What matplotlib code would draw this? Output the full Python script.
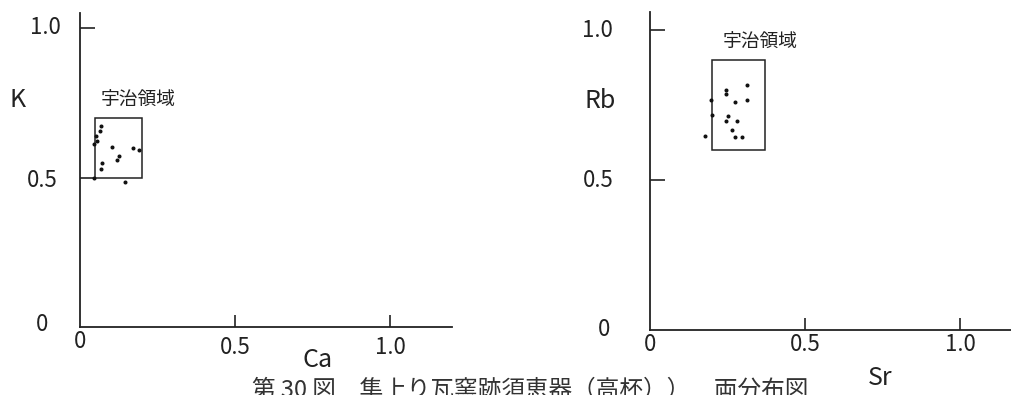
import matplotlib
matplotlib.use('Agg')
import matplotlib.pyplot as plt
from matplotlib.patches import Rectangle

plt.rcParams['font.family'] = ['Noto Sans CJK JP', 'DejaVu Sans']

# K - Ca 分布
ca = [0.069, 0.065, 0.052, 0.054, 0.044, 0.102, 0.171, 0.189, 0.127, 0.118, 0.072, 0.069, 0.046, 0.146]
k = [0.673, 0.657, 0.639, 0.623, 0.613, 0.601, 0.598, 0.591, 0.571, 0.559, 0.549, 0.529, 0.497, 0.484]
# Rb - Sr 分布
sr = [0.314, 0.245, 0.244, 0.196, 0.275, 0.314, 0.200, 0.253, 0.246, 0.282, 0.266, 0.274, 0.298, 0.177]
rb = [0.818, 0.801, 0.788, 0.768, 0.759, 0.766, 0.718, 0.714, 0.698, 0.697, 0.667, 0.642, 0.644, 0.648]

# 宇治領域 (x0, y0, x1, y1)
uji_k_ca = (0.05, 0.5, 0.2, 0.7)
uji_rb_sr = (0.2, 0.6, 0.37, 0.9)

region_label = '宇治領域'
caption = '第 30 図　隼上り瓦窯跡須恵器（高杯））　両分布図'

W, H = 1012, 395
fig = plt.figure(figsize=(W / 100, H / 100), dpi=100)
lc = '#222222'

def make_ax(x0, y0, xmax, ymax, sx, sy):
    # x0,y0: 原点の画素位置(上から), sx,sy: 1.0あたりの画素数
    w = xmax * sx
    h = ymax * sy
    ax = fig.add_axes([x0 / W, (H - y0) / H, w / W, h / H])
    ax.set_xlim(0, xmax)
    ax.set_ylim(0, ymax)
    for s in ['top', 'right']:
        ax.spines[s].set_visible(False)
    for s in ['left', 'bottom']:
        ax.spines[s].set_linewidth(1.3)
        ax.spines[s].set_color(lc)
    ax.set_xticks([0.5, 1.0])
    ax.set_yticks([0.5, 1.0])
    ax.tick_params(axis='x', direction='in', length=9, width=1.2, color=lc, labelbottom=False)
    ax.tick_params(axis='y', direction='in', length=11, width=1.2, color=lc, labelleft=False)
    ax.patch.set_alpha(0)
    return ax

def txt(ax, x, y, s, size=16):
    ax.text(x, y, s, ha='center', va='center', fontsize=size, color=lc, clip_on=False)

# 左図 K-Ca
ax1 = make_ax(80, 327, 1.2, 1.05, 310, 299)
ax1.plot(ca, k, 'o', ms=1.9, color='#111111')
b = uji_k_ca
ax1.add_patch(Rectangle((b[0], b[1]), b[2] - b[0], b[3] - b[1], fill=False, lw=1.1, ec=lc))
ax1.text(0.065, 0.759, region_label, ha='left', va='center', fontsize=13.5, color=lc)
txt(ax1, -0.113, 1.0, '1.0')
txt(ax1, -0.123, 0.49, '0.5')
txt(ax1, -0.123, 0.007, '0')
txt(ax1, 0.0, -0.05, '0')
txt(ax1, 0.5, -0.067, '0.5')
txt(ax1, 1.0, -0.067, '1.0')
txt(ax1, -0.2, 0.759, 'K', 18)
txt(ax1, 0.765, -0.11, 'Ca', 18)

# 右図 Rb-Sr
ax2 = make_ax(650, 330, 1.165, 1.06, 310, 300)
ax2.plot(sr, rb, 'o', ms=1.9, color='#111111')
b = uji_rb_sr
ax2.add_patch(Rectangle((b[0], b[1]), b[2] - b[0], b[3] - b[1], fill=False, lw=1.1, ec=lc))
ax2.text(0.235, 0.957, region_label, ha='left', va='center', fontsize=13.5, color=lc)
txt(ax2, -0.168, 1.0, '1.0')
txt(ax2, -0.161, 0.763, 'Rb', 18)
txt(ax2, -0.168, 0.497, '0.5')
txt(ax2, -0.148, 0.003, '0')
txt(ax2, 0.0, -0.047, '0')
txt(ax2, 0.5, -0.047, '0.5')
txt(ax2, 1.0, -0.047, '1.0')
txt(ax2, 0.742, -0.16, 'Sr', 18)

fig.text(530 / W, (H - 379) / H, caption, ha='center', va='top', fontsize=17, color='#333333')

fig.savefig('out.png', dpi=100, facecolor='white')
